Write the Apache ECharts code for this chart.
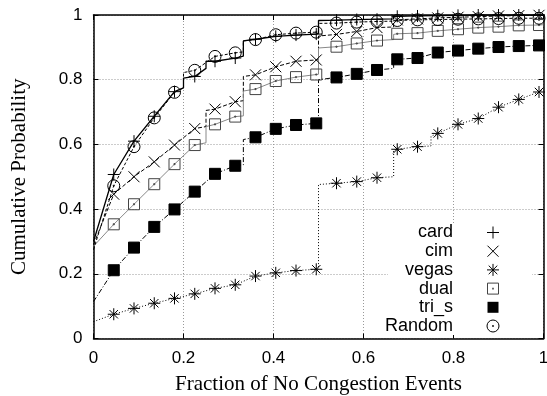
<!DOCTYPE html>
<html>
<head>
<meta charset="utf-8">
<script src="https://cdn.jsdelivr.net/npm/echarts@6/dist/echarts.min.js"></script>
<style>
  html, body { margin: 0; padding: 0; background: #fff; }
  #chart { width: 547px; height: 396px; }
</style>
</head>
<body>
<div id="chart"></div>
<script>
// Series names, in legend order
const seriesNames = ['card', 'cim', 'vegas', 'dual', 'tri_s', 'Random'];

// x positions where point markers are drawn
const markerX = [0.045, 0.09, 0.135, 0.18, 0.225, 0.27, 0.315, 0.36, 0.405, 0.45, 0.495,
                 0.54, 0.585, 0.63, 0.675, 0.72, 0.765, 0.81, 0.855, 0.9, 0.945, 0.99];

// Cumulative probability at each marker position
const card   = [0.507, 0.610, 0.687, 0.763, 0.810, 0.857, 0.867, 0.925, 0.934, 0.938, 0.941,
                0.984, 0.986, 0.987, 0.996, 0.997, 0.998, 0.999, 1.000, 1.000, 1.000, 1.000];
const cim    = [0.446, 0.500, 0.546, 0.598, 0.649, 0.709, 0.732, 0.815, 0.840, 0.857, 0.861,
                0.940, 0.949, 0.961, 0.985, 0.988, 0.991, 0.993, 0.995, 0.997, 0.998, 0.999];
const vegas  = [0.075, 0.093, 0.109, 0.124, 0.138, 0.155, 0.166, 0.193, 0.203, 0.210, 0.214,
                0.480, 0.485, 0.497, 0.585, 0.593, 0.634, 0.662, 0.680, 0.715, 0.739, 0.762];
const dual   = [0.353, 0.415, 0.477, 0.539, 0.598, 0.662, 0.686, 0.771, 0.796, 0.808, 0.816,
                0.902, 0.912, 0.921, 0.942, 0.944, 0.951, 0.956, 0.961, 0.964, 0.968, 0.969];
const tri_s  = [0.211, 0.281, 0.345, 0.399, 0.454, 0.509, 0.534, 0.622, 0.648, 0.660, 0.665,
                0.807, 0.818, 0.830, 0.863, 0.867, 0.884, 0.890, 0.896, 0.901, 0.904, 0.906];
const random = [0.472, 0.593, 0.682, 0.761, 0.829, 0.872, 0.883, 0.924, 0.939, 0.944, 0.947,
                0.975, 0.978, 0.980, 0.983, 0.985, 0.986, 0.987, 0.988, 0.989, 0.990, 0.990];

// Curve start/end points and the jumps of each empirical CDF ([x, y] pairs)
const cardSteps   = [[0, 0.300], [0.2, 0.775], [0.2, 0.805], [0.25, 0.835], [0.25, 0.857],
                     [0.333, 0.873], [0.333, 0.920], [0.5, 0.943], [0.5, 0.983],
                     [0.667, 0.988], [0.667, 0.996], [1, 1.000]];
const cimSteps    = [[0, 0.290], [0.25, 0.655], [0.25, 0.705], [0.333, 0.735], [0.333, 0.810],
                     [0.5, 0.862], [0.5, 0.935], [0.667, 0.963], [0.667, 0.983], [1, 1.000]];
const vegasSteps  = [[0, 0.052], [0.5, 0.215], [0.5, 0.476], [0.667, 0.500], [0.667, 0.582],
                     [0.75, 0.595], [0.75, 0.625], [1, 0.770]];
const dualSteps   = [[0, 0.285], [0.25, 0.605], [0.25, 0.655], [0.333, 0.688], [0.333, 0.765],
                     [0.5, 0.817], [0.5, 0.898], [0.667, 0.924], [0.667, 0.940], [1, 0.970]];
const tri_sSteps  = [[0, 0.114], [0.333, 0.537], [0.333, 0.615], [0.5, 0.666], [0.5, 0.800],
                     [0.667, 0.835], [0.667, 0.858], [1, 0.906]];
const randomSteps = [[0, 0.275], [0.2, 0.775], [0.2, 0.822], [0.333, 0.886], [0.333, 0.920],
                     [0.5, 0.948], [0.5, 0.974], [0.667, 0.981], [0.667, 0.983], [1, 0.990]];

// Axis tick labels
const tickLabels = ['0', '0.2', '0.4', '0.6', '0.8', '1'];

const markerValues = [card, cim, vegas, dual, tri_s, random];
const stepValues = [cardSteps, cimSteps, vegasSteps, dualSteps, tri_sSteps, randomSteps];

// Point symbols (stroked paths)
const SYM = {
  plus:  'path://M0,6L12,6M6,0L6,12',
  cross: 'path://M0,0L12,12M12,0L0,12',
  star:  'path://M0,6L12,6M6,0L6,12M1.8,1.8L10.2,10.2M10.2,1.8L1.8,10.2',
  box:   'path://M0,0L12,0L12,12L0,12Z M5.4,5.4L6.6,5.4L6.6,6.6L5.4,6.6Z',
  ring:  'path://M12,6A6,6 0 1,1 0,6A6,6 0 1,1 12,6Z M6.6,6A0.6,0.6 0 1,1 5.4,6A0.6,0.6 0 1,1 6.6,6Z'
};

const styles = [
  { line: { color: '#000', width: 1.3, type: 'solid' },   sym: SYM.plus,  size: 12, fill: 'rgba(0,0,0,0)', stroke: '#000' },
  { line: { color: '#000', width: 1,   type: [4, 2] },    sym: SYM.cross, size: 11, fill: 'rgba(0,0,0,0)', stroke: '#000' },
  { line: { color: '#000', width: 1,   type: [1, 2] },    sym: SYM.star,  size: 12, fill: 'rgba(0,0,0,0)', stroke: '#000' },
  { line: { color: '#888', width: 1,   type: 'solid' },   sym: SYM.box,   size: 11, fill: 'rgba(0,0,0,0)', stroke: '#444' },
  { line: { color: '#000', width: 1,   type: [5, 2, 1, 2] }, sym: 'rect', size: 11, fill: '#000', stroke: '#000' },
  { line: { color: '#000', width: 1,   type: [3, 2] },    sym: SYM.ring,  size: 12, fill: 'rgba(0,0,0,0)', stroke: '#000' }
];

function lineVertices(i) {
  const pts = markerX.map((x, k) => [x, markerValues[i][k]]).concat(stepValues[i]);
  return pts.sort((a, b) => a[0] - b[0]);
}

const series = [];
seriesNames.forEach((name, i) => {
  const st = styles[i];
  series.push({
    name: name, type: 'line', data: lineVertices(i), showSymbol: false, symbol: 'none',
    lineStyle: st.line, z: 2, silent: true
  });
  series.push({
    name: name, type: 'scatter', data: markerX.map((x, k) => [x, markerValues[i][k]]),
    symbol: st.sym, symbolSize: st.size, z: 3, silent: true,
    itemStyle: { color: st.fill, borderColor: st.stroke, borderWidth: 1, opacity: 1 }
  });
});

// Legend: text right-aligned, symbol to the right
const legendTextRight = 453, legendSymX = 493, legendTop = 232.5, legendRow = 18.7;
const legendGraphics = [{
  type: 'rect', shape: { x: 388, y: 223, width: 144, height: 112 },
  style: { fill: '#fff' }, z: 50, silent: true
}];
function legendIcon(i, cx, cy) {
  const s = { stroke: '#000', lineWidth: 1, fill: null };
  const h = 6;
  const els = [];
  if (i === 0 || i === 2) {
    els.push({ type: 'line', shape: { x1: cx - h, y1: cy, x2: cx + h, y2: cy }, style: s });
    els.push({ type: 'line', shape: { x1: cx, y1: cy - h, x2: cx, y2: cy + h }, style: s });
  }
  if (i === 1 || i === 2) {
    const d = i === 1 ? 5.5 : 4.3;
    els.push({ type: 'line', shape: { x1: cx - d, y1: cy - d, x2: cx + d, y2: cy + d }, style: s });
    els.push({ type: 'line', shape: { x1: cx + d, y1: cy - d, x2: cx - d, y2: cy + d }, style: s });
  }
  if (i === 3) {
    els.push({ type: 'rect', shape: { x: cx - 5.5, y: cy - 5.5, width: 11, height: 11 }, style: { stroke: '#444', lineWidth: 1, fill: null } });
    els.push({ type: 'rect', shape: { x: cx - 0.8, y: cy - 0.8, width: 1.6, height: 1.6 }, style: { fill: '#444' } });
  }
  if (i === 4) {
    els.push({ type: 'rect', shape: { x: cx - 5.5, y: cy - 5.5, width: 11, height: 11 }, style: { fill: '#000' } });
  }
  if (i === 5) {
    els.push({ type: 'circle', shape: { cx: cx, cy: cy, r: 6 }, style: s });
    els.push({ type: 'circle', shape: { cx: cx, cy: cy, r: 0.9 }, style: { fill: '#000' } });
  }
  return els.map(e => Object.assign(e, { z: 51, silent: true }));
}
seriesNames.forEach((name, i) => {
  const cy = legendTop + legendRow * i;
  legendGraphics.push({
    type: 'text', x: legendTextRight, y: cy, z: 51, silent: true,
    style: { text: name, textAlign: 'right', textVerticalAlign: 'middle',
             font: '18px "Liberation Sans", Arial, sans-serif', fill: '#000' }
  });
  legendIcon(i, legendSymX, cy).forEach(e => legendGraphics.push(e));
});

const axisLine = { show: true, onZero: false, lineStyle: { color: '#000', width: 1.5 } };
const tick = { show: true, inside: true, length: 5, lineStyle: { color: '#000', width: 1 } };
const grid = { show: true, lineStyle: { color: '#999', width: 1, type: [1, 2] } };
const labelFont = { color: '#000', fontFamily: '"Liberation Sans", Arial, sans-serif', fontSize: 17 };
const fmt = v => tickLabels[Math.round(v / 0.2)];

const option = {
  animation: false,
  backgroundColor: '#fff',
  grid: { left: 93.5, right: 3.5, top: 15, bottom: 57.5, containLabel: false, outerBoundsMode: 'none' },
  xAxis: [
    { type: 'value', position: 'bottom', min: 0, max: 1, interval: 0.2,
      axisLine: axisLine, axisTick: tick, splitLine: grid,
      axisLabel: Object.assign({ margin: 11, formatter: fmt }, labelFont),
      name: 'Fraction of No Congestion Events', nameLocation: 'middle', nameGap: 35,
      nameTextStyle: { color: '#000', fontFamily: '"Liberation Serif", "Times New Roman", serif', fontSize: 21 } },
    { type: 'value', position: 'top', min: 0, max: 1, interval: 0.2,
      axisLine: axisLine, axisTick: tick, splitLine: { show: false }, axisLabel: { show: false } }
  ],
  yAxis: [
    { type: 'value', position: 'left', min: 0, max: 1, interval: 0.2,
      axisLine: axisLine, axisTick: tick, splitLine: grid,
      axisLabel: Object.assign({ margin: 11, formatter: fmt }, labelFont),
      name: 'Cumulative Probability', nameLocation: 'middle', nameGap: 64, nameRotate: 90,
      nameTextStyle: { color: '#000', fontFamily: '"Liberation Serif", "Times New Roman", serif', fontSize: 21 } },
    { type: 'value', position: 'right', min: 0, max: 1, interval: 0.2,
      axisLine: axisLine, axisTick: tick, splitLine: { show: false }, axisLabel: { show: false } }
  ],
  series: series,
  graphic: legendGraphics
};

const chart = echarts.init(document.getElementById('chart'), null, { renderer: 'canvas' });
chart.setOption(option);
</script>
</body>
</html>
